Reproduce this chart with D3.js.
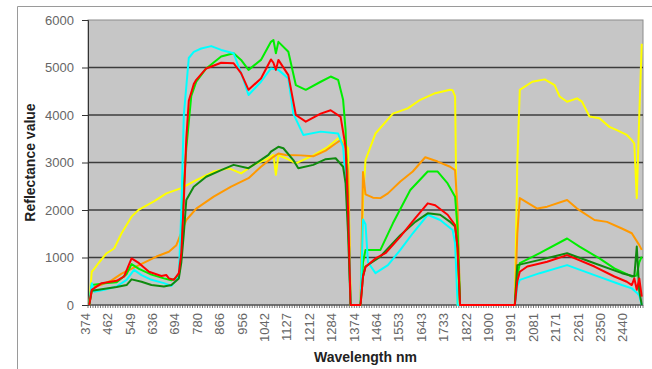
<!DOCTYPE html>
<html>
<head>
<meta charset="utf-8">
<script src="https://cdn.jsdelivr.net/npm/d3@7"></script>
<style>
  html, body { margin: 0; padding: 0; background: #fff; }
  svg { display: block; }
</style>
</head>
<body>
<svg id="chart" width="652" height="369"></svg>
<script>
// Spectral bands on the category axis; a wavelength label every ninth band.
const bandCount = 223;
const labelStep = 9;
const wavelengthLabels = [374, 462, 549, 636, 694, 780, 866, 956, 1042, 1127, 1212, 1284,
  1374, 1464, 1553, 1643, 1733, 1822, 1900, 1991, 2081, 2171, 2261, 2350, 2440];
const reflectanceTicks = [0, 1000, 2000, 3000, 4000, 5000, 6000];

// Reflectance spectra, each point is [band index, reflectance value].
const yellowSpectrum = [[0,0],[1,700],[2,760],[4,900],[7,1090],[10,1190],[13,1510],[17,1860],[20,2010],
  [26,2180],[31,2350],[37,2460],[43,2630],[50,2810],[56,2880],[61,2770],[66,2950],[71,3060],[74,3160],
  [75,2740],[76,3150],[79,3090],[83,2980],[90,3150],[96,3330],[100,3510],[102,3450],[104,3300],[105,0],
  [109,0],[110,2200],[111,3050],[115,3610],[122,4030],[128,4140],[133,4320],[139,4460],[145,4530],
  [146,4520],[147,4390],[148,0],[171,0],[172,3000],[173,4530],[178,4700],[183,4750],[187,4630],
  [189,4390],[192,4280],[196,4350],[198,4280],[201,3970],[205,3930],[209,3750],[212,3680],[216,3580],
  [218,3470],[219,3400],[220,2250],[221,4000],[222,5500]];

const orangeSpectrum = [[0,0],[1,300],[2,380],[5,430],[9,520],[13,660],[20,840],[27,1020],[32,1120],
  [35,1260],[39,1790],[43,2030],[50,2280],[57,2490],[64,2670],[69,2910],[74,3120],[76,3190],[79,3160],
  [85,3150],[90,3130],[95,3250],[99,3400],[101,3470],[103,3300],[104,2800],[105,0],[109,0],[110,2800],
  [111,2330],[114,2260],[117,2250],[120,2350],[125,2600],[130,2810],[135,3110],[140,3020],[145,2910],
  [147,2840],[148,2000],[149,0],[171,0],[172,1500],[173,2250],[180,2030],[184,2070],[192,2210],
  [196,2030],[203,1790],[208,1750],[214,1610],[218,1510],[221,1260],[222,1160]];

const limeSpectrum = [[0,0],[1,420],[5,450],[11,480],[15,650],[17,860],[20,760],[25,640],[30,560],
  [33,520],[36,600],[37,1300],[38,2500],[39,3300],[41,4400],[43,4700],[47,4980],[53,5230],[58,5300],
  [61,5160],[64,4950],[69,5160],[73,5540],[74,5580],[75,5300],[76,5540],[80,5330],[83,4630],[87,4530],
  [93,4700],[97,4810],[100,4740],[102,4320],[103,3680],[104,2000],[105,0],[109,0],[110,900],[111,1160],
  [117,1160],[122,1720],[129,2420],[136,2810],[140,2810],[144,2560],[147,2280],[148,1600],[149,0],
  [171,0],[172,600],[173,880],[181,1090],[192,1400],[197,1230],[205,980],[211,770],[218,600],
  [220,620],[221,900],[222,1020]];

const cyanSpectrum = [[0,0],[1,460],[2,280],[6,320],[11,390],[15,530],[18,740],[21,630],[25,530],
  [30,460],[33,400],[36,600],[37,2000],[38,4000],[40,5200],[42,5330],[45,5400],[49,5450],[53,5370],
  [58,5300],[62,4740],[64,4420],[69,4700],[73,4980],[76,4950],[80,4770],[82,4030],[86,3580],[93,3650],
  [100,3610],[102,3330],[104,2000],[105,0],[109,0],[110,1800],[111,1700],[112,900],[115,670],[120,840],
  [125,1160],[130,1510],[136,1900],[141,1790],[146,1580],[147,1300],[148,0],[171,0],[172,400],
  [173,530],[181,670],[192,840],[203,630],[214,420],[218,350],[220,260],[221,200],[222,0]];

const darkGreenSpectrum = [[0,0],[1,300],[5,330],[11,380],[15,420],[17,540],[21,490],[25,420],[30,390],
  [33,420],[36,560],[37,900],[38,1500],[39,2210],[42,2490],[47,2700],[53,2840],[58,2950],[64,2880],
  [68,3020],[72,3160],[73,3230],[76,3330],[78,3300],[82,3050],[84,2880],[90,2950],[95,3070],[99,3090],
  [102,2910],[103,2560],[104,1500],[105,0],[109,0],[110,600],[111,810],[117,1020],[125,1470],
  [131,1750],[136,1930],[141,1900],[145,1750],[147,1650],[148,1200],[149,0],[171,0],[172,840],
  [181,950],[192,1090],[203,880],[214,670],[219,600],[220,1230],[221,300],[222,0]];

const redSpectrum = [[0,0],[1,320],[5,460],[11,510],[14,600],[17,980],[20,880],[24,700],[29,610],
  [31,630],[32,560],[34,530],[36,670],[37,1100],[38,2200],[39,3500],[40,4300],[42,4650],[43,4740],
  [47,4980],[53,5100],[58,5090],[61,4880],[64,4530],[69,4770],[73,5170],[74,5100],[75,4950],[76,5160],
  [80,4840],[83,4000],[87,3860],[93,4030],[97,4100],[101,3960],[103,3330],[104,2000],[105,0],[109,0],
  [110,600],[111,800],[115,980],[119,1090],[125,1440],[131,1830],[136,2140],[139,2100],[144,1900],
  [147,1680],[148,1200],[149,0],[171,0],[172,500],[173,700],[176,810],[184,910],[192,1050],[203,810],
  [211,600],[216,490],[218,420],[219,560],[220,320],[221,560],[222,175]];

const spectra = [
  { values: yellowSpectrum, color: "#ffff00" },
  { values: orangeSpectrum, color: "#ff9900" },
  { values: limeSpectrum, color: "#00ee00" },
  { values: cyanSpectrum, color: "#00ffff" },
  { values: darkGreenSpectrum, color: "#0f8a0f" },
  { values: redSpectrum, color: "#ff0000" }
];

const svg = d3.select("#chart");
const plot = { left: 88, right: 643, top: 20, bottom: 305 };

// Category edges span [0, bandCount]; band k is drawn at its centre k + 0.5.
const x = d3.scaleLinear().domain([0, bandCount]).range([plot.left, plot.right]);
const y = d3.scaleLinear().domain([0, 6000]).range([plot.bottom, plot.top]);
const bandX = k => x(k + 0.5);

// Outer chart frame
svg.append("path")
  .attr("d", "M17.5,369 V6.5 H652")
  .attr("fill", "none").attr("stroke", "#9a9a9a").attr("stroke-width", 1);

// Plot area
svg.append("rect")
  .attr("x", plot.left).attr("y", plot.top)
  .attr("width", plot.right - plot.left).attr("height", plot.bottom - plot.top)
  .attr("fill", "#c6c6c6").attr("stroke", "#8c8c8c").attr("stroke-width", 1);

// Horizontal gridlines
svg.append("g").selectAll("line")
  .data(reflectanceTicks.filter(v => v > 0 && v < 6000))
  .join("line")
  .attr("x1", plot.left).attr("x2", plot.right)
  .attr("y1", d => y(d)).attr("y2", d => y(d))
  .attr("stroke", "#3c3c3c").attr("stroke-width", 1.3);

// Y axis
const yAxis = svg.append("g")
  .attr("transform", `translate(${plot.left},0)`)
  .call(d3.axisLeft(y).tickValues(reflectanceTicks).tickSize(6).tickPadding(8).tickFormat(d3.format("d")));
yAxis.select(".domain").attr("stroke", "#333");
yAxis.selectAll(".tick line").attr("stroke", "#333");
yAxis.selectAll("text")
  .attr("font-family", "'Liberation Sans', Arial, sans-serif")
  .attr("font-size", 13).attr("fill", "#666");

// X axis: a tick at every band edge
const xAxis = svg.append("g").attr("transform", `translate(0,${plot.bottom})`);
xAxis.append("line")
  .attr("x1", plot.left).attr("x2", plot.right)
  .attr("stroke", "#333").attr("stroke-width", 1);
xAxis.selectAll("line.band")
  .data(d3.range(bandCount + 1))
  .join("line").attr("class", "band")
  .attr("x1", d => x(d)).attr("x2", d => x(d))
  .attr("y1", 0).attr("y2", 3)
  .attr("stroke", "#555").attr("stroke-width", 0.8);
xAxis.selectAll("text")
  .data(wavelengthLabels)
  .join("text")
  .attr("transform", (d, i) => `translate(${bandX(i * labelStep) + 0.5},8) rotate(-90)`)
  .attr("text-anchor", "end")
  .attr("font-family", "'Liberation Sans', Arial, sans-serif")
  .attr("font-size", 13).attr("fill", "#666")
  .text(d => d);

// Axis titles
svg.append("text")
  .attr("transform", `translate(${(plot.left + plot.right) / 2},362)`)
  .attr("text-anchor", "middle")
  .attr("font-family", "'Liberation Sans', Arial, sans-serif")
  .attr("font-size", 14).attr("font-weight", "bold").attr("fill", "#222")
  .text("Wavelength nm");
svg.append("text")
  .attr("transform", `translate(35,${(plot.top + plot.bottom) / 2}) rotate(-90)`)
  .attr("text-anchor", "middle")
  .attr("font-family", "'Liberation Sans', Arial, sans-serif")
  .attr("font-size", 14).attr("font-weight", "bold").attr("fill", "#222")
  .text("Reflectance value");

// Spectra
const line = d3.line().x(d => bandX(d[0])).y(d => y(d[1]));
svg.append("g").selectAll("path")
  .data(spectra)
  .join("path")
  .attr("d", d => line(d.values))
  .attr("fill", "none")
  .attr("stroke", d => d.color)
  .attr("stroke-width", 2)
  .attr("stroke-linejoin", "round");
</script>
</body>
</html>
